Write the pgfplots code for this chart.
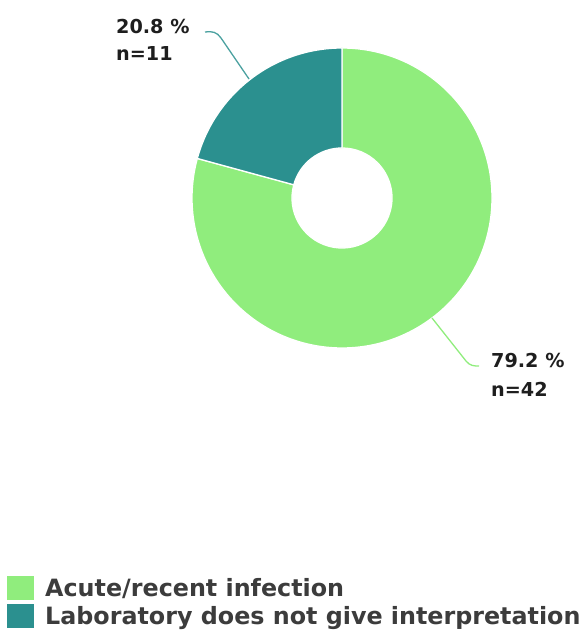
\documentclass[border=0pt]{standalone}
\usepackage{fontspec}
\setmainfont{DejaVu Sans}
\usepackage{pgfplots}
\usepackage{pgfplotstable}
\pgfplotsset{compat=1.18}
\definecolor{cGreen}{RGB}{144,237,125}
\definecolor{cTeal}{RGB}{43,144,143}
\definecolor{cText}{RGB}{30,30,30}
\definecolor{cLeg}{RGB}{60,60,60}

\pgfplotstableread{
share count
79.2 42
20.8 11
}\donutdata

\begin{document}
\begin{tikzpicture}
\path[use as bounding box] (0,0) rectangle (586pt,631pt);
\pgfplotstablegetelem{0}{count}\of\donutdata \let\cA\pgfplotsretval
\pgfplotstablegetelem{1}{count}\of\donutdata \let\cB\pgfplotsretval
\pgfplotstablegetelem{0}{share}\of\donutdata \let\sA\pgfplotsretval
\pgfplotstablegetelem{1}{share}\of\donutdata \let\sB\pgfplotsretval
\pgfmathsetmacro{\angA}{360*\cA/(\cA+\cB)}
\pgfmathsetmacro{\endA}{90-\angA}
\begin{axis}[
  x=1pt, y=1pt, xmin=0, xmax=586, ymin=0, ymax=631,
  hide axis, clip=false,
  legend style={at={(axis cs:7,3)}, anchor=south west, draw=none, fill=none,
    font=\fontsize{23.8}{28}\selectfont\bfseries, text=cLeg,
    inner sep=0pt, row sep=4pt,
    nodes={inner sep=2pt, text depth=0pt},
    /tikz/every odd column/.append style={column sep=9pt}},
  legend cell align=left,
  legend image code/.code={\fill[#1] (0pt,-12pt) rectangle (27pt,12pt);},
]
\addlegendimage{fill=cGreen, draw=none}
\addlegendentry{Acute/recent infection}
\addlegendimage{fill=cTeal, draw=none}
\addlegendentry{Laboratory does not give interpretation}

\begin{scope}[shift={(axis cs:342,433)}]
\path[fill=cGreen, draw=white, line width=1.3pt, line join=round]
  (90:150pt) arc[start angle=90, end angle=\endA, radius=150pt]
  -- (\endA:50pt) arc[start angle=\endA, end angle=90, radius=50pt] -- cycle;
\path[fill=cTeal, draw=white, line width=1.3pt, line join=round]
  (\endA:150pt) arc[start angle=\endA, end angle=-270, radius=150pt]
  -- (-270:50pt) arc[start angle=-270, end angle=\endA, radius=50pt] -- cycle;
\end{scope}

\draw[cTeal!85!white, line width=1.3pt] (axis cs:249,552) -- (axis cs:221,593)
  .. controls (axis cs:217,599) and (axis cs:212,600) .. (axis cs:205,599);
\draw[cGreen, line width=1.3pt] (axis cs:432,313) -- (axis cs:466,270)
  .. controls (axis cs:470,265) and (axis cs:474,265) .. (axis cs:479,265);

\node[anchor=base west, inner sep=0pt, text=cText, font=\fontsize{19.2}{22}\selectfont\bfseries] at (axis cs:116,597) {\sB\ \%};
\node[anchor=base west, inner sep=0pt, text=cText, font=\fontsize{19.2}{22}\selectfont\bfseries] at (axis cs:116,570) {n=\cB};
\node[anchor=base west, inner sep=0pt, text=cText, font=\fontsize{19.2}{22}\selectfont\bfseries] at (axis cs:491,263) {\sA\ \%};
\node[anchor=base west, inner sep=0pt, text=cText, font=\fontsize{19.2}{22}\selectfont\bfseries] at (axis cs:491,234) {n=\cA};
\end{axis}
\end{tikzpicture}
\end{document}
